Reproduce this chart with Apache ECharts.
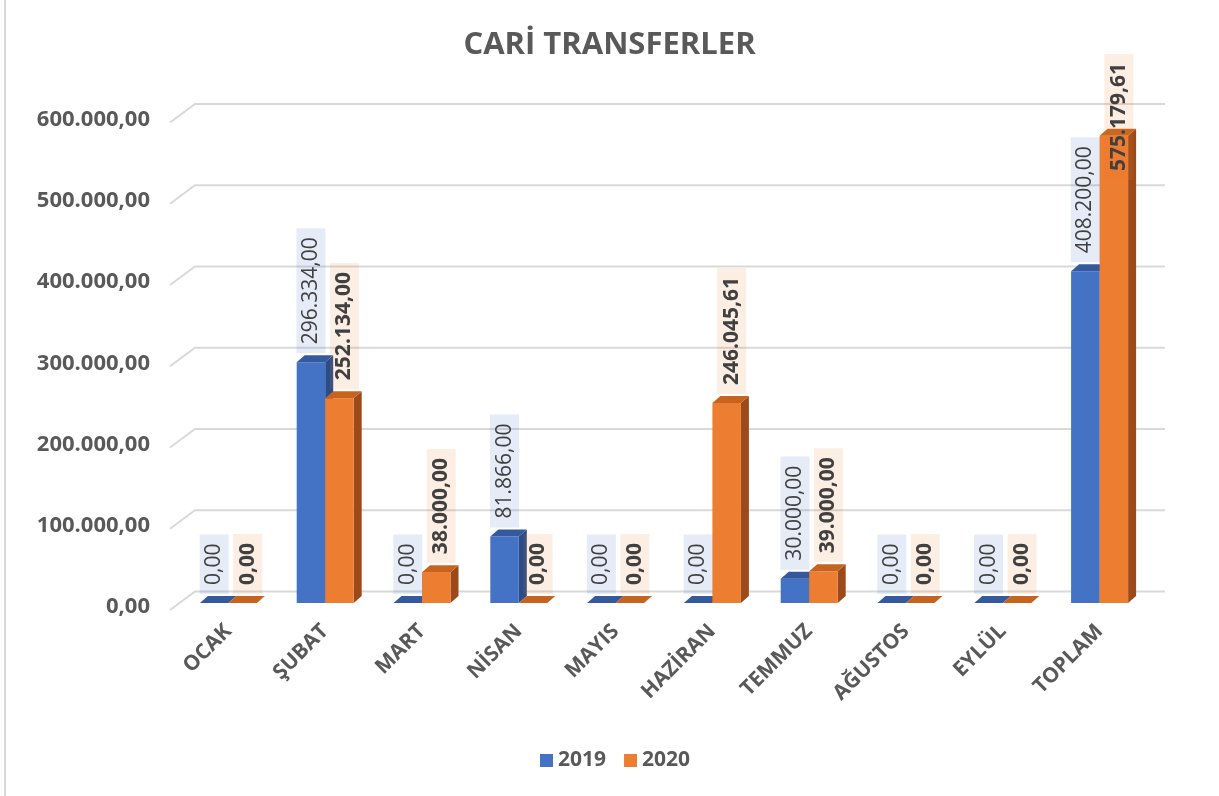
<!DOCTYPE html>
<html lang="tr">
<head>
    <meta charset="UTF-8">
    <title>Cari Transferler</title>
    <script src="https://cdn.jsdelivr.net/npm/echarts@6/dist/echarts.min.js"></script>
    <style>
        html, body { margin: 0; padding: 0; background: #fff; }
        #main { width: 1219px; height: 796px; }
    </style>
</head>
<body>
<div id="main"></div>
<script type="text/javascript">
    // veriler
    var months = ['OCAK', 'ŞUBAT', 'MART', 'NİSAN', 'MAYIS', 'HAZİRAN', 'TEMMUZ', 'AĞUSTOS', 'EYLÜL', 'TOPLAM'];
    var values2019 = [0, 296334, 0, 81866, 0, 0, 30000, 0, 0, 408200];
    var values2020 = [0, 252134, 38000, 0, 0, 246045.61, 39000, 0, 0, 575179.61];
    var yTicks = [0, 100000, 200000, 300000, 400000, 500000, 600000];

    var BAR_W = 28.5;   // tek sütun genişliği
    var DX = 8, DY = -7; // sütun derinliği
    var LABEL_TOP = 54;  // etiket kutusu bu çizginin üstüne çıkmasın
    var textColor = '#595959';
    var font = '"Open Sans", "Liberation Sans", sans-serif';

    // 296334 -> 296.334,00
    function trFormat(v) {
        var parts = v.toFixed(2).split('.');
        parts[0] = parts[0].replace(/\B(?=(\d{3})+(?!\d))/g, '.');
        return parts[0] + ',' + parts[1];
    }

    var toPairs = function (arr) {
        return arr.map(function (v, i) { return [i, v]; });
    };

    var measureCtx = document.createElement('canvas').getContext('2d');
    function textLen(txt, weight) {
        measureCtx.font = weight + ' 21px ' + font;
        return measureCtx.measureText(txt).width;
    }

    function barItem(side, colors) {
        return function (params, api) {
            var cat = api.value(0), val = api.value(1);
            var base = api.coord([cat, 0]);
            var top = api.coord([cat, val]);
            var x0 = side < 0 ? base[0] - BAR_W : base[0];
            var x1 = x0 + BAR_W;
            var yb = base[1], yt = top[1];
            return {
                type: 'group',
                children: [
                    {type: 'polygon', shape: {points: [[x1, yb], [x1 + DX, yb + DY], [x1 + DX, yt + DY], [x1, yt]]},
                        style: {fill: colors[2]}},
                    {type: 'rect', shape: {x: x0, y: yt, width: BAR_W, height: yb - yt},
                        style: {fill: colors[0]}},
                    {type: 'polygon', shape: {points: [[x0, yt], [x1, yt], [x1 + DX, yt + DY], [x0 + DX, yt + DY]]},
                        style: {fill: colors[1]}}
                ]
            };
        };
    }

    function labelItem(side, bg, weight, shift) {
        return function (params, api) {
            var cat = api.value(0), val = api.value(1);
            var top = api.coord([cat, val]);
            var cx = top[0] + side * BAR_W / 2 + shift;
            var txt = trFormat(val);
            var y = top[1] + DY - 2;
            var boxLen = textLen(txt, weight) + 18;
            if (y - boxLen < LABEL_TOP) {
                y = LABEL_TOP + boxLen;
            }
            return {
                type: 'text',
                x: cx,
                y: y,
                rotation: Math.PI / 2,
                style: {
                    text: txt,
                    fill: '#404040',
                    fontSize: 21,
                    fontWeight: weight,
                    fontFamily: font,
                    align: 'left',
                    verticalAlign: 'middle',
                    backgroundColor: bg,
                    padding: [4, 9]
                }
            };
        };
    }

    var myChart = echarts.init(document.getElementById('main'));

    var option = {
        backgroundColor: '#fff',
        animation: false,
        title: {
            text: 'CARİ TRANSFERLER',
            left: 'center',
            top: 25,
            textStyle: {color: textColor, fontSize: 31, fontWeight: 'bold', fontFamily: font}
        },
        legend: {
            data: ['2019', '2020'],
            left: 535,
            top: 745,
            icon: 'rect',
            itemWidth: 13,
            itemHeight: 13,
            itemGap: 18,
            textStyle: {color: textColor, fontSize: 21, fontWeight: 'bold', fontFamily: font}
        },
        grid: {left: 180, right: 71, top: 115.5, bottom: 193, containLabel: false},
        xAxis: {
            type: 'category',
            data: months,
            axisLine: {show: false},
            axisTick: {show: false},
            axisLabel: {
                rotate: 45,
                margin: 25,
                interval: 0,
                color: textColor,
                fontSize: 21,
                fontWeight: 'bold',
                fontFamily: font
            }
        },
        yAxis: {
            type: 'value',
            min: 0,
            max: 600000,
            interval: 100000,
            splitLine: {show: false},
            axisLine: {show: false},
            axisTick: {show: false},
            axisLabel: {
                margin: 30,
                verticalAlign: 'top',
                lineHeight: 8,
                color: textColor,
                fontSize: 22,
                fontWeight: 'bold',
                fontFamily: font,
                formatter: trFormat
            }
        },
        graphic: [
            {type: 'line', shape: {x1: 5, y1: 0, x2: 5, y2: 796}, style: {stroke: '#d9d9d9', lineWidth: 2}}
        ],
        series: [
            {
                name: 'gridlines',
                type: 'custom',
                silent: true,
                z: 0,
                data: yTicks.map(function (v) { return [0, v]; }),
                renderItem: function (params, api) {
                    var cs = params.coordSys;
                    var y = api.coord([0, api.value(1)])[1];
                    return {
                        type: 'polyline',
                        shape: {points: [[cs.x - 10, y + 7], [cs.x + 15, y - 11.5], [cs.x + cs.width + 17, y - 11.5]]},
                        style: {stroke: '#d9d9d9', lineWidth: 2, fill: null}
                    };
                }
            },
            {
                name: '2019',
                type: 'custom',
                z: 2,
                itemStyle: {color: '#4472C4'},
                data: toPairs(values2019),
                renderItem: barItem(-1, ['#4472C4', '#34599F', '#2B4C87'])
            },
            {
                name: '2020',
                type: 'custom',
                z: 3,
                itemStyle: {color: '#ED7D31'},
                data: toPairs(values2020),
                renderItem: barItem(1, ['#ED7D31', '#C8631F', '#9C4A1A'])
            },
            {
                name: 'lbl2019',
                type: 'custom',
                z: 5,
                silent: true,
                data: toPairs(values2019),
                renderItem: labelItem(-1, 'rgba(68,114,196,0.14)', 'normal', 0)
            },
            {
                name: 'lbl2020',
                type: 'custom',
                z: 6,
                silent: true,
                data: toPairs(values2020),
                renderItem: labelItem(1, 'rgba(237,125,49,0.13)', 'bold', 5)
            }
        ]
    };

    myChart.setOption(option);
</script>
</body>
</html>
